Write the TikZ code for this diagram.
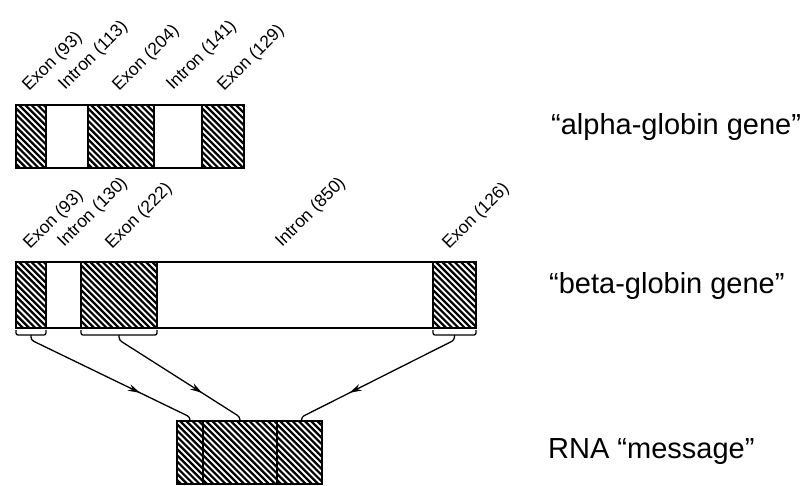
\documentclass[tikz,border=0pt]{standalone}
\usepackage{fontspec}
\setmainfont{Liberation Sans}
\usetikzlibrary{calc,arrows.meta,decorations.markings}
\begin{document}
\begin{tikzpicture}[x=1pt,y=-1pt,
  seg/.style={draw,line width=2pt,anchor=north west,inner sep=0pt,outer sep=0pt,fill=white},
  exon/.style={seg,path picture={\foreach \k in {-14,...,28}{\draw[line width=2.2pt] ($(path picture bounding box.north west)+(\k*6.2,-3)$) -- ++(95,95);}}},
  lab/.style={rotate=45,anchor=base west,inner sep=0pt,font=\fontsize{17.5}{17.5}\selectfont},
  big/.style={anchor=base west,inner sep=0pt,font=\fontsize{29}{29}\selectfont},
  brk/.style={line width=1.3pt,rounded corners=2pt},
  conn/.style={line width=1.3pt,rounded corners=3pt,postaction={decorate},
    decoration={markings,mark=at position 0.68 with {\arrow{Stealth[length=12pt,width=7pt]}}}}]
\useasboundingbox (0,0) rectangle (802,486);
% alpha-globin gene
\node[exon,minimum width=30pt,minimum height=63pt] (A1) at (16,105) {};
\node[seg,minimum width=42pt,minimum height=63pt] (A2) at (46,105) {};
\node[exon,minimum width=66pt,minimum height=63pt] (A3) at (88,105) {};
\node[seg,minimum width=48pt,minimum height=63pt] (A4) at (154,105) {};
\node[exon,minimum width=42pt,minimum height=63pt] (A5) at (202,105) {};
\node[lab] (LA1) at (29,92) {Exon (93)};
\node[lab] (LA2) at (65,91) {Intron (113)};
\node[lab] (LA3) at (119,92) {Exon (204)};
\node[lab] (LA4) at (173,91) {Intron (141)};
\node[lab] (LA5) at (224,92) {Exon (129)};
% beta-globin gene
\node[exon,minimum width=30pt,minimum height=66pt] (B1) at (16,262) {};
\node[seg,minimum width=35pt,minimum height=66pt] (B2) at (46,262) {};
\node[exon,minimum width=76pt,minimum height=66pt] (B3) at (81,262) {};
\node[seg,minimum width=276pt,minimum height=66pt] (B4) at (157,262) {};
\node[exon,minimum width=43pt,minimum height=66pt] (B5) at (433,262) {};
\node[lab] (LB1) at (30,250) {Exon (93)};
\node[lab] (LB2) at (64,248) {Intron (130)};
\node[lab] (LB3) at (112,250) {Exon (222)};
\node[lab] (LB4) at (282,248) {Intron (850)};
\node[lab] (LB5) at (449,250) {Exon (126)};
% RNA message
\node[exon,minimum width=26pt,minimum height=63pt] (R1) at (177,421) {};
\node[exon,minimum width=74pt,minimum height=63pt] (R2) at (203,421) {};
\node[exon,minimum width=45pt,minimum height=63pt] (R3) at (277,421) {};
% brackets
\foreach \b in {B1,B3,B5}{
  \draw[brk] ([yshift=-2pt]\b.south west) |- ([yshift=-7pt]\b.south) -| ([yshift=-2pt]\b.south east);
}
% connectors
\draw[conn] ([yshift=-7pt]B1.south) -- ([yshift=-12pt]B1.south) -- ([yshift=4pt]R1.north) -- (R1.north);
\draw[conn] ([yshift=-7pt]B3.south) -- ([yshift=-12pt]B3.south) -- ([yshift=4pt]R2.north) -- (R2.north);
\draw[conn] ([yshift=-7pt]B5.south) -- ([yshift=-12pt]B5.south) -- ([xshift=2pt,yshift=4pt]R3.north) -- ([xshift=2pt]R3.north);
% names
\node[big] (NA) at (551,135) {“alpha-globin gene”};
\node[big] (NB) at (549,293) {“beta-globin gene”};
\node[big] (NR) at (548,458) {RNA “message”};
\end{tikzpicture}
\end{document}
